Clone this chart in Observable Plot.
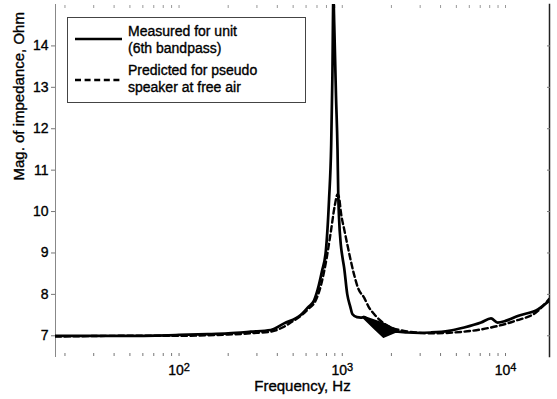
<!DOCTYPE html>
<html>
<head>
<meta charset="utf-8">
<script src="https://cdn.jsdelivr.net/npm/d3@7"></script>
<script src="https://cdn.jsdelivr.net/npm/@observablehq/plot@0.6"></script>
<style>
  html, body { margin: 0; padding: 0; background: #fff; }
  svg { font-family: "Liberation Sans", Arial, sans-serif; }
  svg text { stroke: #000; stroke-width: 0.35px; }
</style>
</head>
<body>
<div id="chart"></div>
<script>
// ---- data ----
// Measured for unit (6th bandpass): [frequency Hz, |Z| Ohm]
const measured = [
  [17.5, 7.0], [30, 7.0], [50, 7.0], [100, 7.02], [150, 7.04], [200, 7.06],
  [275, 7.1], [364, 7.14], [440, 7.3], [556, 7.5], [620, 7.7], [671, 7.85],
  [705, 8.1], [750, 8.55], [793, 9.05], [830, 10.3], [855, 11.6], [870, 13.3],
  [882, 15.2], [893, 14.5], [915, 12.8], [935, 11.5], [945, 10.4], [955, 9.86],
  [979, 9.21], [1003, 8.89], [1026, 8.65], [1073, 8.0], [1120, 7.7], [1155, 7.52],
  [1230, 7.45], [1300, 7.44], [1360, 7.45], [1500, 7.3], [1800, 7.1], [2190, 7.1],
  [2500, 7.08], [3000, 7.07], [3490, 7.08], [4500, 7.12], [5580, 7.2], [7080, 7.32],
  [8150, 7.42], [8940, 7.32], [10000, 7.36], [11890, 7.48], [15800, 7.64], [18600, 7.85]
];
// Oscillating (filled-looking) part of the measured curve
const blobFreq = [1360, 1600, 1805, 2190];
const blobHigh = [7.45, 7.35, 7.28, 7.12];
const blobLow  = [7.42, 7.15, 6.96, 7.1];
// Predicted for pseudo speaker at free air
const predicted = [
  [17.5, 6.98], [50, 7.0], [100, 7.0], [200, 7.03], [300, 7.07], [364, 7.1],
  [440, 7.22], [483, 7.32], [556, 7.48], [620, 7.65], [687, 7.85], [738, 8.2],
  [800, 8.85], [850, 9.5], [900, 10.15], [936, 10.42], [960, 10.3], [978, 10.02],
  [1030, 9.55], [1073, 9.21], [1179, 8.49], [1250, 8.15], [1361, 7.92], [1450, 7.7],
  [1570, 7.52], [1894, 7.24], [2390, 7.12], [3490, 7.06], [5580, 7.1], [8150, 7.2],
  [11440, 7.36], [15800, 7.6], [18600, 7.9]
];
const yTicks = [7, 8, 9, 10, 11, 12, 13, 14];
const xMajorTicks = [100, 1000, 10000];
const xMajorBase = "10";
const xMajorExp = ["2", "3", "4"];
const xAllTicks = [20, 30, 40, 50, 60, 70, 80, 90, 100, 200, 300, 400, 500, 600, 700, 800, 900,
                   1000, 2000, 3000, 4000, 5000, 6000, 7000, 8000, 9000, 10000];
const xDomain = [17.5, 18600];
const yDomain = [6.5, 15];
const xLabel = "Frequency, Hz";
const yLabel = "Mag. of impedance, Ohm";
const legendItems = [
  {lines: ["Measured for unit", "(6th bandpass)"], dash: null},
  {lines: ["Predicted for pseudo", "speaker at free air"], dash: "6,3.6"}
];

const blob = blobFreq.map((f, i) => ({f, lo: blobLow[i], hi: blobHigh[i]}));

const W = 557, H = 399;
const chart = Plot.plot({
  width: W, height: H,
  marginLeft: 55, marginRight: 8, marginTop: 4, marginBottom: 43,
  style: {fontFamily: "Liberation Sans, Arial, sans-serif", background: "#fff", color: "#000"},
  x: {type: "log", domain: xDomain},
  y: {domain: yDomain},
  marks: [
    // left / right frame edges
    Plot.frame({anchor: "left", stroke: "#888", strokeWidth: 1}),
    Plot.frame({anchor: "right", stroke: "#222", strokeWidth: 1.5}),
    // y axis (left), outward ticks
    Plot.axisY({ticks: yTicks, tickSize: 4, tickPadding: 3, fontSize: 14, tickFormat: d => String(d), label: null, stroke: "#777"}),
    // y ticks on right (inward)
    Plot.axisY({anchor: "right", ticks: yTicks, tickSize: 3, dx: -3, tickFormat: () => "", label: null, stroke: "#777"}),
    // x ticks bottom (inward) and top (inward)
    Plot.axisX({anchor: "bottom", ticks: xAllTicks, tickSize: 3, dy: -3, tickFormat: () => "", label: null, stroke: "#777"}),
    Plot.axisX({anchor: "top", ticks: xAllTicks, tickSize: 3, dy: 3, tickFormat: () => "", label: null, stroke: "#999"}),
    // x major labels (exponent added below as a superscript tspan)
    Plot.axisX({anchor: "bottom", ticks: xMajorTicks, tickSize: 0, tickPadding: 9, fontSize: 14,
                tickFormat: d => xMajorBase + "^" + xMajorExp[xMajorTicks.indexOf(d)], label: null}),
    // axis titles
    Plot.text([xLabel], {text: d => d, frameAnchor: "bottom", dy: 24, lineAnchor: "top", fontSize: 15, fill: "#000"}),
    Plot.text([yLabel], {text: d => d, frameAnchor: "left", dx: -36, rotate: -90, fontSize: 15, fill: "#000"}),
    // curves
    Plot.line(predicted, {x: d => d[0], y: d => d[1], stroke: "#000", strokeWidth: 2.4,
                          strokeDasharray: "5.5,3.5", curve: "monotone-x", clip: true}),
    Plot.areaY(blob, {x: "f", y1: "lo", y2: "hi", fill: "#000", stroke: "#000", strokeWidth: 2, clip: true}),
    Plot.line(measured, {x: d => d[0], y: d => d[1], stroke: "#000", strokeWidth: 2.7,
                         curve: "monotone-x", clip: true})
  ]
});
document.getElementById("chart").appendChild(chart);

const svg = d3.select(chart);
// turn "10^n" labels into 10 with a superscript exponent
svg.selectAll("text").each(function () {
  const t = d3.select(this);
  const s = t.text();
  const m = /^(\d+)\^(\d+)$/.exec(s);
  if (m) {
    t.text(null);
    t.append("tspan").text(m[1]);
    t.append("tspan").attr("dy", "-0.45em").attr("font-size", "11px").text(m[2]);
  }
});

// legend overlay (inside the plot frame, upper left)
const lg = svg.append("g").attr("font-family", "Liberation Sans, Arial, sans-serif")
  .attr("font-size", 14).attr("text-anchor", "start");
lg.append("rect").attr("x", 67.5).attr("y", 17.5).attr("width", 238).attr("height", 85)
  .attr("fill", "#fff").attr("stroke", "#444").attr("stroke-width", 1);
const rows = [{lineY: 39, textY: [36, 52.5]}, {lineY: 80, textY: [75, 91.5]}];
legendItems.forEach((it, i) => {
  const r = rows[i];
  const ln = lg.append("line").attr("x1", 75).attr("x2", 122).attr("y1", r.lineY).attr("y2", r.lineY)
    .attr("stroke", "#000").attr("stroke-width", 2.6);
  if (it.dash) ln.attr("stroke-dasharray", it.dash);
  it.lines.forEach((t, j) => {
    lg.append("text").attr("x", 128).attr("y", r.textY[j]).attr("text-anchor", "start")
      .attr("fill", "#000").text(t);
  });
});
</script>
</body>
</html>
